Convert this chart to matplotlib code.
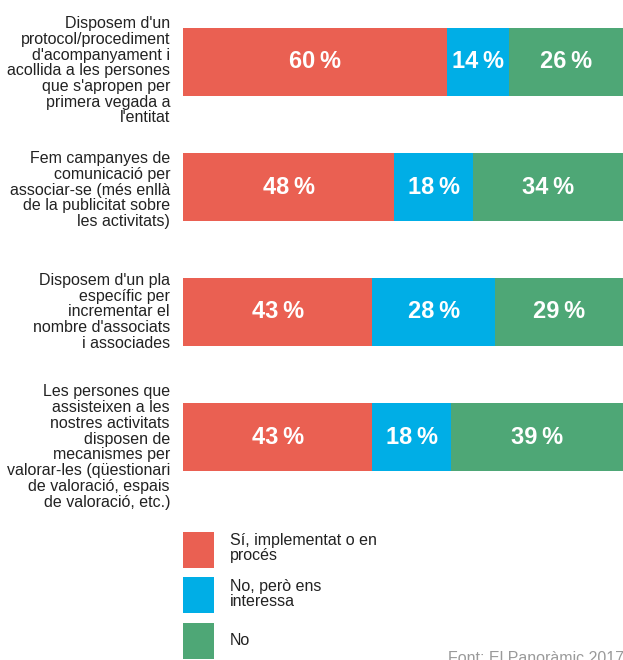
import numpy as np
import matplotlib.pyplot as plt
from matplotlib.patches import Patch

plt.rcParams['font.family'] = ['Liberation Sans', 'DejaVu Sans']

questions = [
    "Disposem d'un\nprotocol/procediment\nd'acompanyament i\nacollida a les persones\nque s'apropen per\nprimera vegada a\nl'entitat",
    "Fem campanyes de\ncomunicació per\nassociar-se (més enllà\nde la publicitat sobre\nles activitats)",
    "Disposem d'un pla\nespecífic per\nincrementar el\nnombre d'associats\ni associades",
    "Les persones que\nassisteixen a les\nnostres activitats\ndisposen de\nmecanismes per\nvalorar-les (qüestionari\nde valoració, espais\nde valoració, etc.)",
]
si = [60, 48, 43, 43]
no_pero = [14, 18, 28, 18]
no = [26, 34, 29, 39]
series_names = ["Sí, implementat o en\nprocés", "No, però ens\ninteressa", "No"]
colors = ["#EA6052", "#00AEE6", "#4EA776"]
source = "Font: El Panoràmic 2017"

W, H = 623, 660
fs = 11.5
fig = plt.figure(figsize=(W / 100, H / 100), dpi=100)
ax = fig.add_axes([183 / W, 1 - 500 / H, 440 / W, 500 / H])

y = np.arange(len(questions))
left = np.zeros(len(questions))
for vals, c in zip([si, no_pero, no], colors):
    vals = np.array(vals)
    ax.barh(y, vals, left=left, height=0.54, color=c, edgecolor='none')
    for yi, l, v in zip(y, left, vals):
        ax.text(l + v / 2, yi, f"{v}\u2009%", ha='center', va='center',
                color='white', fontsize=17, fontweight='bold')
    left += vals

ax.set_xlim(0, 100)
ax.set_ylim(3.504, -0.496)
ax.axis('off')

label_offsets = [0.07, 0.025, 0.0, 0.08]
for yi, q, off in zip(y, questions, label_offsets):
    ax.text(-13 / 4.4, yi + off, q, ha='right', va='center', fontsize=fs,
            color='#222222', linespacing=1.06)

handles = [Patch(facecolor=c, edgecolor='none') for c in colors]
fig.legend(handles, series_names, loc='upper left',
           bbox_to_anchor=(183 / W, 1 - 532 / H), frameon=False,
           borderpad=0, borderaxespad=0, fontsize=fs, labelcolor='#222222',
           handlelength=31 / 16.0, handleheight=3.05, handletextpad=1.0,
           labelspacing=0.62)
for t in fig.legends[0].get_texts():
    t.set_linespacing(1.0)

fig.text(448 / W, 1 - 651 / H, source, ha='left', va='top',
         fontsize=fs, color='#9a9a9a')

fig.savefig('out.png', dpi=100)
